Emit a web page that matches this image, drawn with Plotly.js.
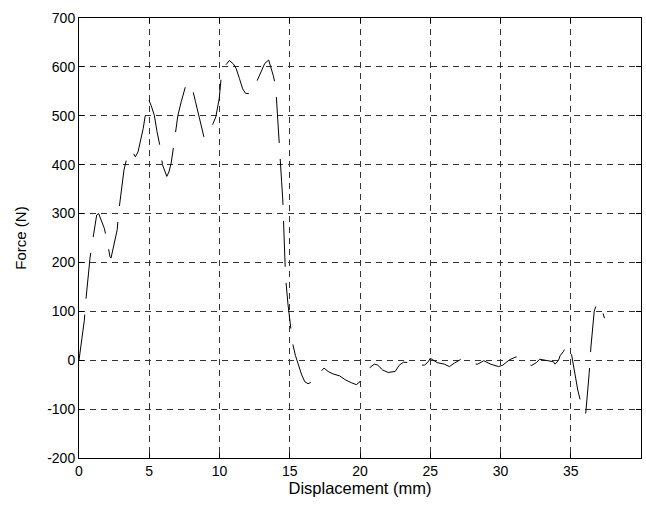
<!DOCTYPE html>
<html>
<head>
<meta charset="utf-8">
<script src="https://cdn.plot.ly/plotly-3.0.1.min.js"></script>
<style>html,body{margin:0;padding:0;background:#fff;}#chart{width:646px;height:507px;}</style>
</head>
<body>
<div id="chart"></div>
<script>
const displacement = [0, 0.2, 0.38, 0.47, 0.78, 0.96, 1.08, 1.26, 1.4, 1.55, 1.8, 2.04, 2.2, 2.28, 2.45, 2.72, 2.81, 3.0, 3.2, 3.49, 3.68, 3.85, 4.01, 4.2, 4.4, 4.57, 4.74, 4.98, 5.17, 5.36, 5.55, 5.77, 5.94, 6.1, 6.25, 6.4, 6.56, 6.73, 6.9, 7.04, 7.28, 7.45, 7.57, 7.81, 8.05, 8.29, 8.58, 8.89, 9.13, 9.35, 9.54, 9.74, 9.98, 10.1, 10.34, 10.7, 10.99, 11.18, 11.42, 11.65, 11.85, 12.14, 12.5, 12.86, 13.22, 13.5, 13.65, 13.82, 14.0, 14.13, 14.2, 14.42, 14.5, 14.6, 14.7, 14.88, 15.0, 15.2, 15.4, 15.66, 15.85, 16.07, 16.3, 16.54, 16.9, 17.44, 17.73, 18.08, 18.55, 18.95, 19.38, 19.74, 20.0, 20.31, 20.66, 21.02, 21.26, 21.61, 22.0, 22.5, 22.8, 23.1, 23.5, 23.86, 24.2, 24.6, 24.86, 25.0, 25.5, 26.0, 26.36, 26.71, 27.19, 27.55, 28.02, 28.38, 28.81, 29.3, 29.86, 30.17, 30.64, 31.12, 31.6, 32.19, 32.55, 32.79, 33.3, 33.76, 33.88, 34.12, 34.24, 34.48, 34.67, 34.83, 35.0, 35.12, 35.31, 35.5, 35.79, 35.98, 36.07, 36.21, 36.31, 36.43, 36.55, 36.67, 36.86, 37.1, 37.26, 37.4];
const force = [0, 40, 82, 117, 208, 243, 267, 297, 300, 290, 270, 239, 212, 209, 230, 267, 300, 350, 389, 423, 429, 425, 416, 426, 450, 474, 505, 532, 518, 501, 468, 437, 400, 385, 376, 385, 403, 437, 470, 501, 529, 550, 559, 567, 558, 529, 491, 457, 458, 470, 484, 498, 535, 573, 600, 613, 606, 597, 576, 555, 546, 545, 560, 583, 607, 614, 600, 583, 560, 492, 459, 366, 330, 240, 170, 113, 82, 35, 10, -15, -30, -44, -48, -45, -33, -16, -23, -28, -32, -40, -46, -50, -44, -30, -16, -8, -10, -20, -25, -23, -10, -4, -5, -3, -10, -10, -3, 4, -5, -8, -13, -6, 2, -2, -8, -8, -1, -8, -13, -10, 1, 7, 1, -11, -5, 2, 0, -3, -8, -1, 9, 18, 28, 31, 21, 1, -33, -61, -95, -110, -108, -67, -27, 25, 59, 100, 117, 110, 100, 86];
const xTicks = [0, 5, 10, 15, 20, 25, 30, 35, 40];
const yTicks = [-200, -100, 0, 100, 200, 300, 400, 500, 600, 700];
const xLabel = 'Displacement (mm)';
const yLabel = 'Force (N)';

const fontFam = 'Liberation Sans, Arial, sans-serif';
const axisCommon = {
  showline: true, linecolor: '#000', linewidth: 1, mirror: 'ticks',
  ticks: 'inside', ticklen: 5, tickcolor: '#000', tickwidth: 1,
  showgrid: true, gridcolor: '#333', gridwidth: 1, griddash: '6px,5px',
  zeroline: false, tickfont: {family: fontFam, size: 14, color: '#000'}
};
const data = [{
  x: displacement, y: force, type: 'scatter', mode: 'lines',
  line: {color: '#000', width: 1, dash: '46px,16px'}, hoverinfo: 'skip'
}];
const layout = {
  width: 646, height: 507, showlegend: false,
  paper_bgcolor: '#fff', plot_bgcolor: '#fff',
  margin: {l: 79, r: 5, t: 18, b: 49},
  font: {family: fontFam, color: '#000'},
  xaxis: Object.assign({}, axisCommon, {
    range: [0, 40], tickvals: xTicks, ticktext: xTicks.map(String),
    title: {text: xLabel, font: {family: fontFam, size: 16.5, color: '#000'}, standoff: 3}
  }),
  yaxis: Object.assign({}, axisCommon, {
    range: [-200, 700], tickvals: yTicks, ticktext: yTicks.map(String),
    title: {text: yLabel, font: {family: fontFam, size: 15, color: '#000'}, standoff: 16}
  })
};
Plotly.newPlot('chart', data, layout, {staticPlot: true, displayModeBar: false});
</script>
</body>
</html>
